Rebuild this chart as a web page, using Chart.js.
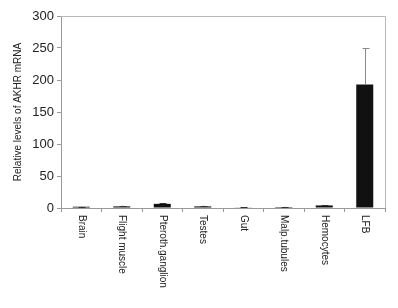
<!doctype html>
<html lang="en">
<head>
    <meta charset="utf-8">
    <title>AKHR mRNA</title>
    <script src="https://cdn.jsdelivr.net/npm/chart.js@4.2.1/dist/chart.umd.min.js"></script>
    <style>
        html, body { margin: 0; padding: 0; background: #fff; }
        #wrap { width: 398px; height: 308px; }
    </style>
</head>
<body>
<div id="wrap"><canvas id="myChart" width="398" height="308"></canvas></div>
<script type="text/javascript">
    const tissues = ["Brain", "Flight muscle", "Pteroth.ganglion", "Testes", "Gut", "Malp.tubules", "Hemocytes", "LFB"]
    const levels = [2, 2.5, 6.5, 2.5, 1, 1.5, 4, 193]
    const errors = [0.3, 1, 1, 1, 0.3, 0.3, 0.5, 57]
    const yTicks = [0, 50, 100, 150, 200, 250, 300]

    const font = "'Liberation Sans', Arial, sans-serif"

    // error bars + plot frame + vertical x labels
    const extras = {
        id: 'extras',
        afterDatasetsDraw(chart) {
            const ctx = chart.ctx
            const meta = chart.getDatasetMeta(0)
            const y = chart.scales.y
            ctx.save()
            ctx.lineWidth = 1
            meta.data.forEach((bar, i) => {
                const top = y.getPixelForValue(levels[i] + errors[i])
                const x = Math.round(bar.x) + 0.5
                ctx.strokeStyle = i === 7 ? '#8a8a8a' : '#333'
                ctx.beginPath()
                ctx.moveTo(x, bar.y)
                ctx.lineTo(x, top)
                ctx.moveTo(x - 3, Math.round(top) + 0.5)
                ctx.lineTo(x + 4, Math.round(top) + 0.5)
                ctx.stroke()
            })
            const a = chart.chartArea
            ctx.strokeStyle = '#b8b8b8'
            ctx.beginPath()
            ctx.moveTo(a.left, Math.round(a.top) + 0.5)
            ctx.lineTo(Math.round(a.right) + 0.5, Math.round(a.top) + 0.5)
            ctx.lineTo(Math.round(a.right) + 0.5, a.bottom)
            ctx.stroke()
            ctx.restore()
        },
        afterDraw(chart) {
            const ctx = chart.ctx
            const x = chart.scales.x
            ctx.save()
            ctx.fillStyle = '#222'
            ctx.font = '10px ' + font
            ctx.textAlign = 'left'
            ctx.textBaseline = 'middle'
            tissues.forEach((t, i) => {
                ctx.save()
                ctx.translate(x.getPixelForValue(i), chart.chartArea.bottom + 7)
                ctx.rotate(Math.PI / 2)
                ctx.fillText(t, 0, 0)
                ctx.restore()
            })
            ctx.restore()
        }
    }

    const config = {
        type: 'bar',
        data: {
            labels: tissues,
            datasets: [{
                data: levels,
                backgroundColor: '#111',
                borderWidth: 0,
                barPercentage: 0.42,
                categoryPercentage: 1
            }]
        },
        options: {
            responsive: false,
            animation: false,
            layout: {padding: {top: 16, right: 13, left: 12, bottom: 0}},
            plugins: {legend: {display: false}, tooltip: {enabled: false}},
            scales: {
                x: {
                    ticks: {display: false},
                    grid: {drawOnChartArea: false, drawTicks: true, tickLength: 4, color: '#999', offset: true},
                    border: {color: '#999'},
                    afterFit(scale) { scale.height = 100 }
                },
                y: {
                    min: 0,
                    max: 300,
                    afterBuildTicks(scale) { scale.ticks = yTicks.map(v => ({value: v})) },
                    ticks: {color: '#222', font: {family: font, size: 13}, padding: 3},
                    grid: {drawOnChartArea: false, drawTicks: true, tickLength: 4, color: '#999'},
                    border: {color: '#999'},
                    title: {
                        display: true,
                        text: 'Relative levels of AKHR mRNA',
                        color: '#222',
                        font: {family: font, size: 10},
                        padding: {top: 0, bottom: 4}
                    },
                    afterFit(scale) { scale.width = 49 }
                }
            }
        },
        plugins: [extras]
    }
    new Chart(document.getElementById('myChart'), config)
</script>
</body>
</html>
